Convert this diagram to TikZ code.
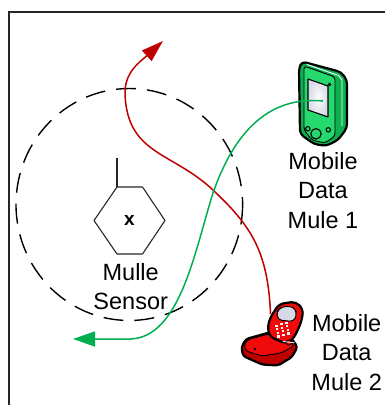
\documentclass[tikz,border=0pt]{standalone}
\usepackage{fontspec}
\setmainfont{Liberation Sans}
\usetikzlibrary{arrows.meta}

\definecolor{pathred}{HTML}{C00000}
\definecolor{pathgreen}{HTML}{00B050}
\definecolor{pdagreen}{HTML}{26D96E}
\definecolor{pdadark}{HTML}{0DB050}
\definecolor{phonered}{HTML}{F00A0A}
\definecolor{phonedark}{HTML}{C00000}
\definecolor{screengray}{HTML}{D6D9E6}

\begin{document}
\begin{tikzpicture}[x=1pt,y=-1pt,
  caption/.style={font=\fontsize{23.5}{29.3}\selectfont, align=center, inner sep=0pt, anchor=base},
  route/.style={line width=1.5pt},
  outline/.style={draw=black, line width=2.2pt, line join=round},
  thinline/.style={draw=black, line width=0.9pt, line join=round}]

\useasboundingbox (0,0) rectangle (385,405);

% frame
\draw[line width=2pt, color=black!85] (8.5,405) -- (8.5,11.7) -- (385,11.7);

% radio range of the sensor
\draw[dash pattern=on 20pt off 11pt, line width=1.4pt]
  (129.3,204.5) ellipse [x radius=113.3, y radius=116];

% sensor body and antenna
\draw[line width=1.1pt, color=black!85, line join=round]
  (94,220.5) -- (117,187) -- (142.5,187) -- (165,220.5) -- (142.5,254) -- (117,254) -- cycle;
\draw[line width=2pt, color=black!85] (117,187) -- (117,158);
\node (sensorx) at (129.3,220.5) {\fontsize{19}{19}\selectfont\bfseries x};

% labels (base anchor sits on the last line)
\node[caption] (sensorlbl) at (130.7,309.3) {Mulle\\Sensor};
\node[caption] (mule1lbl) at (323,228) {Mobile\\Data\\Mule 1};
\node[caption] (mule2lbl) at (346.7,390) {Mobile\\Data\\Mule 2};

% mule 1: handheld PDA
\path[fill=pdadark, outline, rounded corners=4pt]
  (299,68) -- (302,61.5) -- (341,72) -- (347,80) -- (347,128) -- (338,140)
  -- (326,146) -- (314,144) -- (300,134) -- cycle;
\path[fill=pdagreen, thinline, rounded corners=3pt]
  (304,66) -- (335,77) -- (335,136) -- (325,143) -- (312,140) -- (304,130) -- cycle;
\draw[white, line width=0.9pt, line cap=round, line join=round]
  (307,64.5) -- (338.5,75.5) -- (342,80) -- (342,126);
\path[inner color=white, outer color=screengray, draw=black, line width=1.1pt, line join=round]
  (308,79) -- (328,86) -- (328,117) -- (308,110) -- cycle;
\draw[line width=0.8pt, fill=white] (329.5,84.5) circle [radius=1.3];
\draw[line width=1pt, fill=pdagreen] (307.8,128.8) circle [radius=2.2];
\draw[line width=1pt, fill=pdagreen] (328.3,129.8) circle [radius=2.2];
\draw[line width=1.1pt, fill=pdagreen] (316,133.8) circle [radius=5.2];

% mule 2: flip phone
\path[fill=phonedark, outline, rounded corners=3pt]
  (241.5,347) -- (246,339) -- (271,332) -- (292,339) -- (297.5,347) -- (292,357)
  -- (278,365.5) -- (262,364.5) -- (243,356) -- cycle;
\path[fill=phonered, thinline, rounded corners=3pt]
  (244,345) -- (248,339.5) -- (271,333.5) -- (291,340) -- (294,346) -- (281,353)
  -- (262,356) -- (246,351) -- cycle;
\fill (255,349) circle [radius=1.3];
\path[fill=phonered, outline, rounded corners=5pt]
  (270,318) -- (279,304) -- (296,301.5) -- (303.5,310) -- (301,323) -- (294,338)
  -- (287,344) -- (270,337) -- (267.5,328) -- cycle;
\path[fill=screengray, draw=black, line width=0.9pt, rounded corners=4pt]
  (276.5,312) -- (282,306.5) -- (293,306.5) -- (297,313) -- (294,321.5) -- (278,320) -- cycle;
\foreach \r in {0,...,3}
  \foreach \c in {0,1,2}
    \fill[white] ({275+5*\c+0.8*\r},{324.5-1.5*\c+3.6*\r}) rectangle ++(2.6,2.2);
\draw[line width=0.9pt, fill=phonered] (289,342.5) circle [radius=2.6];
\draw[white, line width=0.8pt] (283,341.5) -- (294.5,342.8);

% route end points
\coordinate (pdascreen) at (323,101);
\coordinate (phonetop) at (270.5,314);
\coordinate (redend) at (163,41);
\coordinate (greenend) at (73,339);

% trajectories of the two mules
\draw[route, pathred, -{Triangle[length=22pt, width=14pt]}]
  (phonetop) .. controls (268,250) and (250,225) .. (213,190)
  .. controls (172,151.5) and (128,155) .. (125,95)
  .. controls (124,72) and (140,62) .. (redend);
\draw[route, pathgreen, -{Triangle[length=22pt, width=15pt]}]
  (pdascreen) .. controls (270,96) and (235,130) .. (213,193)
  .. controls (195,250) and (180,338) .. (130,339) -- (greenend);
\end{tikzpicture}
\end{document}
